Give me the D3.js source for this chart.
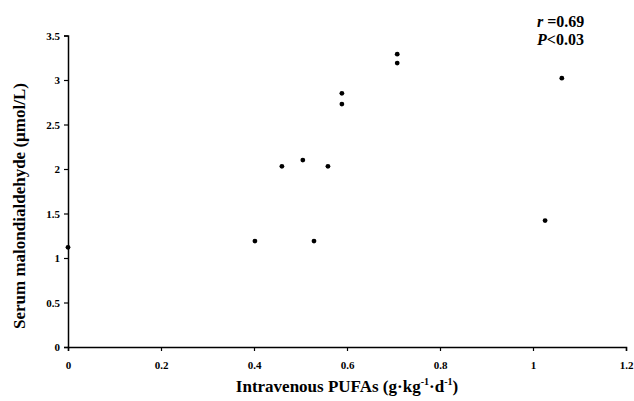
<!DOCTYPE html>
<html><head><meta charset="utf-8">
<script src="https://cdn.jsdelivr.net/npm/d3@7"></script>
<style>body{margin:0;background:#fff}svg{display:block}</style>
</head><body>
<svg id="c" width="634" height="401"></svg>
<script>
const pufa = [0, 0.402, 0.46, 0.505, 0.529, 0.559, 0.589, 0.589, 0.708, 0.708, 1.026, 1.062];
const mda  = [1.12, 1.19, 2.03, 2.10, 1.19, 2.03, 2.85, 2.73, 3.29, 3.19, 1.42, 3.02];
const xTicks = [0, 0.2, 0.4, 0.6, 0.8, 1, 1.2];
const yTicks = [0, 0.5, 1, 1.5, 2, 2.5, 3, 3.5];

const svg = d3.select("#c");
const font = "Liberation Serif, Times New Roman, serif";
const x = d3.scaleLinear().domain([0, 1.2]).range([68, 626]);
const y = d3.scaleLinear().domain([0, 3.5]).range([347, 35.5]);

const xAxis = svg.append("g").attr("transform", "translate(0,347)")
  .call(d3.axisBottom(x).tickValues(xTicks).tickSize(4).tickPadding(10)
    .tickFormat(d => String(+d.toFixed(1))));
const yAxis = svg.append("g").attr("transform", "translate(68,0)")
  .call(d3.axisLeft(y).tickValues(yTicks).tickSize(4).tickPadding(4)
    .tickFormat(d => String(d)));
[xAxis, yAxis].forEach(g => {
  g.attr("font-family", null);
  g.select(".domain").attr("stroke", "#000").attr("stroke-width", 1.5);
  g.selectAll(".tick line").attr("stroke", "#000").attr("stroke-width", 1.2);
  g.selectAll(".tick text").style("font-family", font).style("font-weight", "bold")
    .style("font-size", "11px").attr("fill", "#000");
});

svg.append("g").selectAll("circle").data(pufa.map((v, i) => [v, mda[i]]))
  .join("circle").attr("cx", d => x(d[0])).attr("cy", d => y(d[1]))
  .attr("r", 2.4).attr("fill", "#000");

const t1 = svg.append("text").attr("x", 537).attr("y", 27)
  .style("font-family", font).style("font-weight", "bold").style("font-size", "16px");
t1.append("tspan").style("font-style", "italic").text("r");
t1.append("tspan").text(" =0.69");
const t2 = svg.append("text").attr("x", 537).attr("y", 45)
  .style("font-family", font).style("font-weight", "bold").style("font-size", "16px");
t2.append("tspan").style("font-style", "italic").text("P");
t2.append("tspan").text("<0.03");

svg.append("text").attr("transform", "translate(25,206) rotate(-90)")
  .attr("text-anchor", "middle").style("font-family", font).style("font-weight", "bold")
  .style("font-size", "17px").text("Serum malondialdehyde (\u00b5mol/L)");

const xl = svg.append("text").attr("x", 347).attr("y", 392).attr("text-anchor", "middle")
  .style("font-family", font).style("font-weight", "bold").style("font-size", "17px");
xl.append("tspan").text("Intravenous PUFAs (g\u00b7kg");
xl.append("tspan").style("font-size", "10px").attr("dy", -7).text("-1");
xl.append("tspan").attr("dy", 7).text("\u00b7d");
xl.append("tspan").style("font-size", "10px").attr("dy", -7).text("-1");
xl.append("tspan").attr("dy", 7).text(")");
</script>
</body></html>
